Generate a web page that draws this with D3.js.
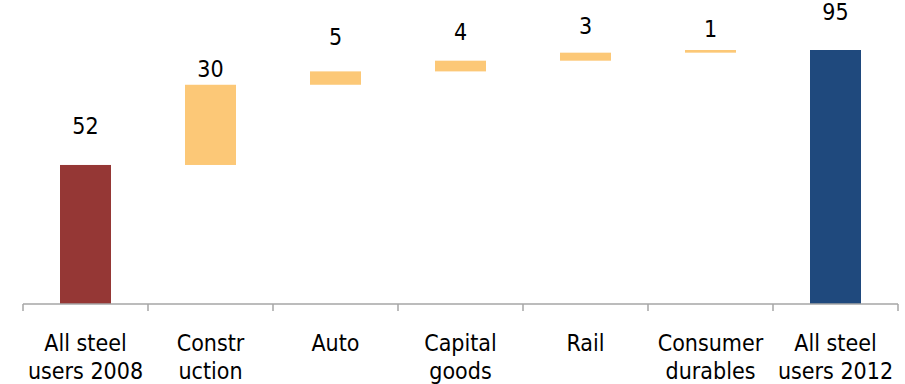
<!DOCTYPE html>
<html>
<head>
<meta charset="utf-8">
<script src="https://cdn.jsdelivr.net/npm/d3@7"></script>
<style>
  html, body { margin: 0; padding: 0; background: #fff; }
  svg { display: block; font-family: "DejaVu Sans Condensed", "DejaVu Sans", sans-serif; }
</style>
</head>
<body>
<svg id="chart" width="905" height="384"></svg>
<script>
// Steel demand bridge, 2008 to 2012 (million tonnes)
const categories = [
  ["All steel", "users 2008"],
  ["Constr", "uction"],
  ["Auto"],
  ["Capital", "goods"],
  ["Rail"],
  ["Consumer", "durables"],
  ["All steel", "users 2012"]
];
const values = [52, 30, 5, 4, 3, 1, 95];
const kinds = ["total", "step", "step", "step", "step", "step", "total"];
const yDomain = [0, 95];

// how far each value label sits above its bar
const labelGap = [31, 8, 26, 21, 19, 13, 30];

const colors = { first: "#953735", step: "#FCC877", last: "#1F497D" };

const svg = d3.select("#chart");
const axisY = 304;

const x = d3.scaleBand()
  .domain(d3.range(categories.length))
  .range([23, 898])
  .paddingInner(0)
  .paddingOuter(0);

const y = d3.scaleLinear().domain(yDomain).range([axisY, 50]);

// running totals give each step bar its base
let running = 0;
const bars = values.map((v, i) => {
  let lo, hi;
  if (kinds[i] === "total") { lo = 0; hi = v; running = v; }
  else { lo = running; hi = running + v; running = hi; }
  return { i, v, lo, hi };
});

const barW = 51;
const fillFor = d => d.i === 0 ? colors.first : (kinds[d.i] === "total" ? colors.last : colors.step);

svg.append("g").selectAll("rect")
  .data(bars)
  .join("rect")
  .attr("x", d => x(d.i) + (x.bandwidth() - barW) / 2)
  .attr("y", d => y(d.hi))
  .attr("width", barW)
  .attr("height", d => y(d.lo) - y(d.hi))
  .attr("fill", fillFor);

// value labels
svg.append("g").selectAll("text")
  .data(bars)
  .join("text")
  .attr("x", d => x(d.i) + x.bandwidth() / 2)
  .attr("y", d => y(d.hi) - labelGap[d.i])
  .attr("text-anchor", "middle")
  .attr("font-size", 23)
  .attr("fill", "#000")
  .text(d => d.v);

// category axis: baseline with ticks on the band boundaries
const axis = svg.append("g").attr("stroke", "#a6a6a6").attr("stroke-width", 1.5);
axis.append("line")
  .attr("x1", x.range()[0]).attr("x2", x.range()[1])
  .attr("y1", axisY).attr("y2", axisY);
const bounds = d3.range(categories.length + 1).map(k => x.range()[0] + k * x.step());
axis.selectAll("line.tick")
  .data(bounds)
  .join("line")
  .attr("class", "tick")
  .attr("x1", d => d).attr("x2", d => d)
  .attr("y1", axisY).attr("y2", axisY + 7);

// category labels
const cat = svg.append("g").selectAll("text")
  .data(categories)
  .join("text")
  .attr("x", (d, i) => x(i) + x.bandwidth() / 2)
  .attr("y", 351)
  .attr("text-anchor", "middle")
  .attr("font-size", 23)
  .attr("fill", "#000");
cat.selectAll("tspan")
  .data(d => d)
  .join("tspan")
  .attr("x", function () { return this.parentNode.getAttribute("x"); })
  .attr("dy", (d, j) => j === 0 ? 0 : 27.5)
  .text(d => d);
</script>
</body>
</html>
